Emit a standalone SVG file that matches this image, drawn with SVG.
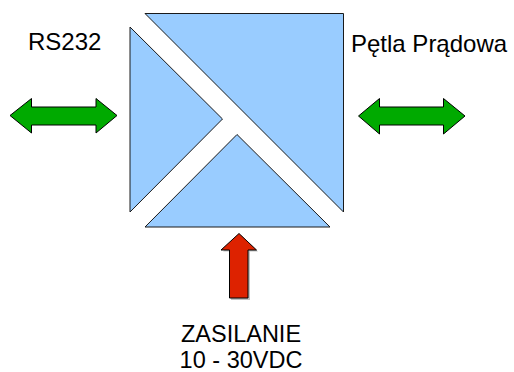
<svg xmlns="http://www.w3.org/2000/svg" width="514" height="372" viewBox="0 0 514 372">
<style>
.blk{fill:#99ccff;stroke:#1a1a1a;stroke-width:1}
.grn{fill:#00aa00;stroke:#000;stroke-width:1}
.red{fill:#dd2200;stroke:#000;stroke-width:1}
.sh{fill:#999;opacity:0.6}
text{font-family:"Liberation Sans",Arial,sans-serif;font-size:24px;fill:#000}
.pw{font-size:23.5px}
</style>
<rect width="514" height="372" fill="#fff"/>
<g id="converter">
<polygon class="blk" points="145,13.5 343.5,13.5 343.5,212"/>
<polygon class="blk" points="130,27 222.5,119 130,212"/>
<polygon class="blk" points="145,227 237,134.5 330,227"/>
</g>
<g id="connectors">
<g id="rs232-arrow">
<polygon class="grn" points="10,115.5 31.5,98.5 31.5,107 96,107 96,98.5 117,115.5 96,133 96,125 31.5,125 31.5,133"/>
</g>
<g id="loop-arrow">
<polygon class="grn" points="358.5,116 379.5,98.5 379.5,107 443.5,107 443.5,98.5 465,116 443.5,134 443.5,125 379.5,125 379.5,134"/>
</g>
<g id="power-arrow">
<polygon class="sh" points="241,235 258,251.5 250,251.5 250,300 231,300 231,251.5 223,251.5"/>
<polygon class="red" points="239,233.5 256.5,250 248,250 248,298 229.5,298 229.5,250 221,250"/>
</g>
</g>
<g id="labels">
<text x="28" y="50">RS232</text>
<text x="351" y="51.5">Pętla Prądowa</text>
<text class="pw" x="241" y="342" text-anchor="middle">ZASILANIE</text>
<text class="pw" x="241" y="368" text-anchor="middle">10 - 30VDC</text>
</g>
</svg>
